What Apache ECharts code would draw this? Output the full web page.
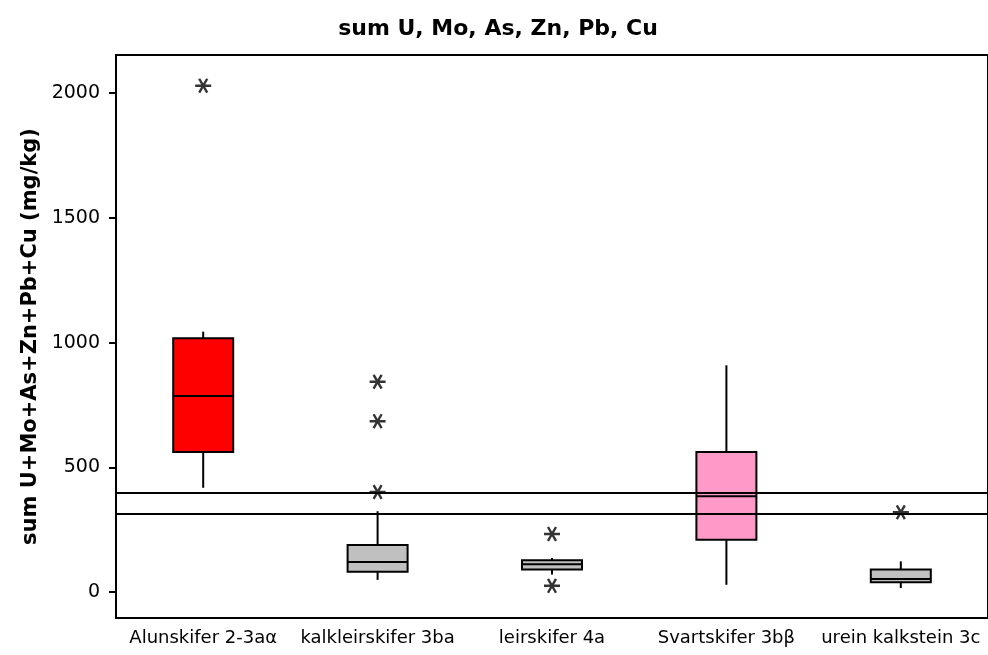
<!DOCTYPE html>
<html>
<head>
<meta charset="utf-8">
<script src="https://cdn.jsdelivr.net/npm/echarts@6/dist/echarts.min.js"></script>
<style>html,body{margin:0;padding:0;background:#fff}#c{width:988px;height:655px}</style>
</head>
<body>
<div id="c"></div>
<script>
const categories = ['Alunskifer 2-3aα', 'kalkleirskifer 3ba', 'leirskifer 4a', 'Svartskifer 3bβ', 'urein kalkstein 3c'];
const boxMin = [418, 49, 70, 29, 16];
const boxQ1 = [561, 81, 90, 210, 39];
const boxMedian = [786, 120, 111, 384, 52];
const boxQ3 = [1017, 189, 128, 561, 90];
const boxMax = [1044, 324, 137, 909, 123];
const boxColors = ['#ff0000', '#c0c0c0', '#c0c0c0', '#ff99c8', '#c0c0c0'];
const outlierCat = [0, 1, 1, 1, 2, 2, 4];
const outlierVal = [2030, 843, 685, 401, 233, 25, 320];
const refLines = [398, 315];
const yTicks = [0, 500, 1000, 1500, 2000];

const font = 'DejaVu Sans, Verdana, sans-serif';
const boxData = categories.map((c, i) => [i, boxMin[i], boxQ1[i], boxMedian[i], boxQ3[i], boxMax[i]]);
const outData = outlierCat.map((c, i) => [c, outlierVal[i]]);

function renderBox(params, api) {
  const i = api.value(0);
  const pMin = api.coord([i, api.value(1)]);
  const pQ1 = api.coord([i, api.value(2)]);
  const pMed = api.coord([i, api.value(3)]);
  const pQ3 = api.coord([i, api.value(4)]);
  const pMax = api.coord([i, api.value(5)]);
  const half = 30;
  const x = pMed[0];
  const ls = { stroke: '#000', lineWidth: 2 };
  return {
    type: 'group',
    children: [
      { type: 'line', shape: { x1: x, y1: pMax[1], x2: x, y2: pQ3[1] }, style: ls },
      { type: 'line', shape: { x1: x, y1: pQ1[1], x2: x, y2: pMin[1] }, style: ls },
      { type: 'rect', shape: { x: x - half, y: pQ3[1], width: half * 2, height: pQ1[1] - pQ3[1] },
        style: { fill: boxColors[params.dataIndex], stroke: '#000', lineWidth: 2 } },
      { type: 'line', shape: { x1: x - half, y1: pMed[1], x2: x + half, y2: pMed[1] }, style: ls }
    ]
  };
}

const chart = echarts.init(document.getElementById('c'), null, { renderer: 'canvas' });
chart.setOption({
  animation: false,
  backgroundColor: '#fff',
  title: {
    text: 'sum U, Mo, As, Zn, Pb, Cu',
    left: 493, top: 13, textAlign: 'center',
    textStyle: { fontFamily: font, fontSize: 22, fontWeight: 'bold', color: '#000' }
  },
  grid: { left: 116, top: 55, bottom: 37, right: -8, show: true, borderColor: '#000', borderWidth: 2, backgroundColor: 'transparent' },
  xAxis: {
    type: 'category',
    data: categories,
    boundaryGap: true,
    axisLine: { onZero: false, lineStyle: { color: '#000', width: 2 } },
    axisTick: { alignWithLabel: true, length: 7, lineStyle: { color: '#000', width: 2 } },
    axisLabel: { color: '#000', fontFamily: font, fontSize: 18, margin: 11, interval: 0 },
    splitLine: { show: false }
  },
  yAxis: {
    type: 'value',
    min: -104, max: 2153,
    name: 'sum U+Mo+As+Zn+Pb+Cu (mg/kg)',
    nameLocation: 'middle',
    nameGap: 73,
    nameTextStyle: { fontFamily: font, fontSize: 21, fontWeight: 'bold', color: '#000' },
    axisLine: { show: true, lineStyle: { color: '#000', width: 2 } },
    axisTick: { show: true, length: 7, customValues: yTicks, lineStyle: { color: '#000', width: 2 } },
    axisLabel: { color: '#000', fontFamily: font, fontSize: 19, margin: 16, customValues: yTicks, formatter: v => String(v) },
    splitLine: { show: false }
  },
  series: [
    {
      type: 'custom',
      data: boxData,
      renderItem: renderBox,
      encode: { x: 0, y: [1, 2, 3, 4, 5] },
      markLine: {
        silent: true,
        symbol: ['none', 'none'],
        label: { show: false },
        lineStyle: { color: '#000', width: 2, type: 'solid' },
        data: refLines.map(v => ({ yAxis: v }))
      }
    },
    {
      type: 'scatter',
      data: outData,
      symbol: 'path://M-1,0 L1,0 M-0.5,-0.866 L0.5,0.866 M-0.5,0.866 L0.5,-0.866',
      symbolSize: 16,
      symbolKeepAspect: true,
      itemStyle: { color: 'none', borderColor: '#000', borderWidth: 2.4 }
    }
  ]
});
</script>
</body>
</html>
